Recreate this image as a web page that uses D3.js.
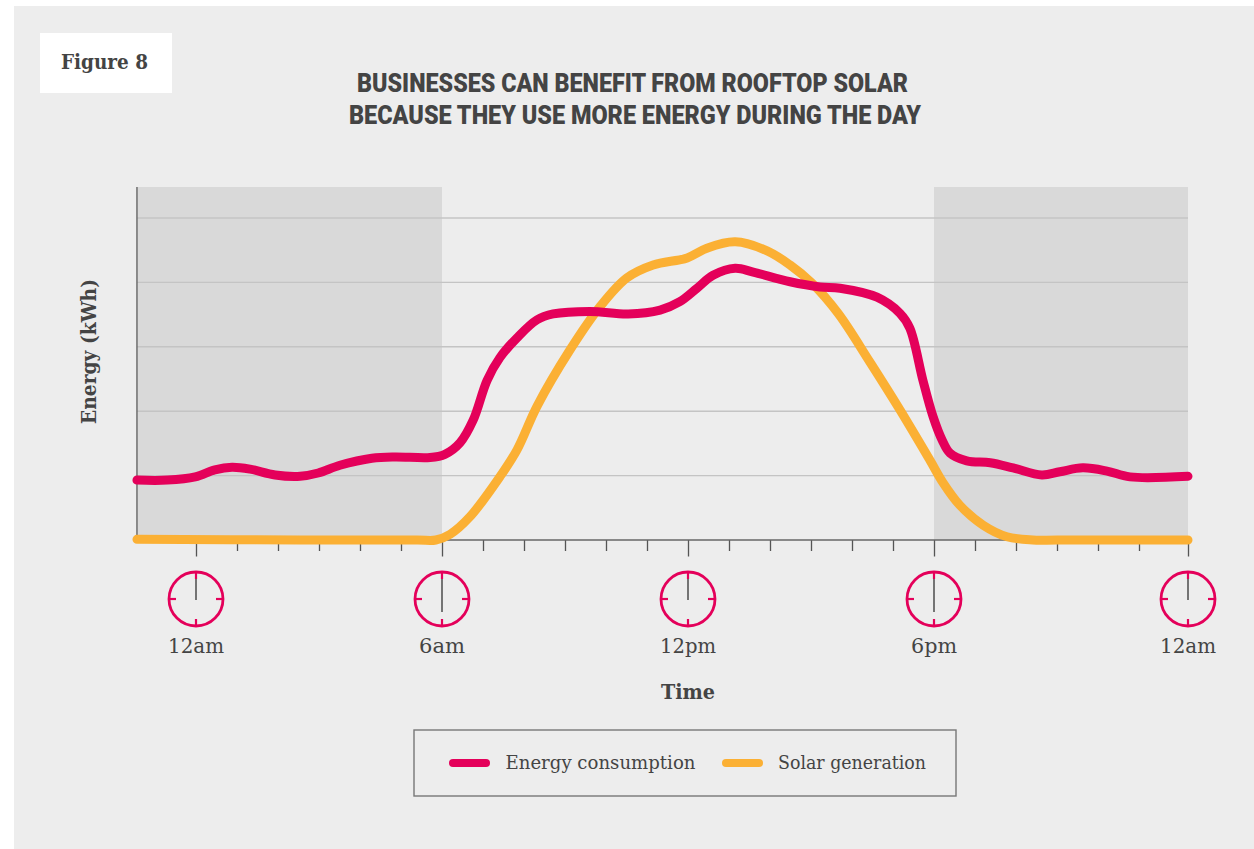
<!DOCTYPE html>
<html><head><meta charset="utf-8">
<script src="https://cdn.jsdelivr.net/npm/d3@7"></script>
<style>html,body{margin:0;padding:0;background:#fff}svg{display:block}</style></head>
<body><svg id="c" width="1254" height="849"></svg>
<script>
const consumptionHours=[-1.44,-0.7,-0.02,0.46,0.88,1.32,1.93,2.54,2.98,3.51,4.29,4.85,5.71,6.07,6.44,6.76,7.10,7.41,7.83,8.32,8.71,9.61,10.54,11.32,11.80,12.22,12.61,13.15,13.59,14.49,15.22,15.71,16.61,17.17,17.41,17.73,17.98,18.2,18.39,18.80,19.37,19.93,20.63,21.07,21.63,22.22,22.78,24];
const consumptionValues=[0.93,0.93,0.98,1.09,1.13,1.10,1.01,0.99,1.04,1.16,1.27,1.29,1.28,1.33,1.51,1.86,2.48,2.83,3.14,3.42,3.51,3.55,3.51,3.57,3.70,3.91,4.11,4.22,4.16,4.01,3.93,3.91,3.77,3.52,3.29,2.48,1.91,1.55,1.35,1.23,1.20,1.12,1.01,1.06,1.12,1.07,0.98,0.99];
const solarHours=[-1.44,2.54,5.4,5.85,6.2,6.68,7.41,7.83,8.32,9.12,9.85,10.51,11.15,11.98,12.46,13.15,13.93,14.49,15.02,15.66,16.44,17.17,17.90,18.22,18.63,19.2,19.78,20.41,21,24];
const solarValues=[0.01,0,0,0,0.09,0.36,0.98,1.40,2.08,2.95,3.62,4.07,4.27,4.38,4.53,4.63,4.49,4.27,3.99,3.52,2.76,2.02,1.24,0.89,0.54,0.23,0.05,0,0,0];
const gridValues=[1,2,3,4,5];
const hourTicks=d3.range(0,25);
const clockHours=[0,6,12,18,24];
const clockLabels=["12am","6am","12pm","6pm","12am"];
const clockHands=[21,33,21,33,21];
const nightBands=[[-1.44,6],[18,24]];
const legendNames=["Energy consumption","Solar generation"];
const PINK="#e4005a",ORANGE="#fbb034",INK="#444444",SLAB="'DejaVu Serif',serif";

const svg=d3.select("#c");
const x=d3.scaleLinear().domain([0,23,24]).range([196,1139,1188]);
const y=d3.scaleLinear().domain([0,5]).range([540,218]);
const yTop=187;

svg.append("rect").attr("x",14).attr("y",6).attr("width",1240).attr("height",843).attr("fill","#ededed");
svg.append("rect").attr("x",40).attr("y",33).attr("width",132).attr("height",60).attr("fill","#fff");

function txt(s,xp,yp,len,size,weight,font){
  return svg.append("text").attr("x",xp).attr("y",yp).attr("font-family",font||SLAB).attr("font-size",size)
    .attr("font-weight",weight||400).attr("fill",INK).attr("textLength",len).attr("lengthAdjust","spacingAndGlyphs").text(s);
}
txt("Figure 8",61,69,87,20,700);
txt("BUSINESSES CAN BENEFIT FROM ROOFTOP SOLAR",357,92,551,25.5,900,"Roboto");
txt("BECAUSE THEY USE MORE ENERGY DURING THE DAY",349,124,572,25.5,900,"Roboto");

svg.selectAll("rect.band").data(nightBands).join("rect").attr("class","band")
  .attr("x",d=>x(d[0])).attr("y",yTop).attr("width",d=>x(d[1])-x(d[0])).attr("height",540-yTop).attr("fill","#d9d9d9");
svg.selectAll("line.grid").data(gridValues).join("line").attr("class","grid")
  .attr("x1",x(-1.44)).attr("x2",x(24)).attr("y1",d=>y(d)).attr("y2",d=>y(d))
  .attr("stroke","#c4c4c4").attr("stroke-width",1.4);

const axis=d3.axisBottom(x).tickValues(hourTicks).tickFormat("").tickSize(11).tickSizeOuter(0);
const ag=svg.append("g").attr("transform","translate(0,540)").call(axis);
ag.select(".domain").remove();
ag.selectAll(".tick line").attr("stroke","#555").attr("stroke-width",1.3)
  .attr("y2",d=>d%6===0?16.5:11);
svg.append("line").attr("x1",x(-1.44)).attr("x2",x(24)).attr("y1",540).attr("y2",540).attr("stroke","#666").attr("stroke-width",1.4);
svg.append("line").attr("x1",x(-1.44)).attr("x2",x(-1.44)).attr("y1",yTop).attr("y2",540).attr("stroke","#666").attr("stroke-width",1.4);

const line=d3.line().x(d=>x(d[0])).y(d=>y(d[1])).curve(d3.curveCatmullRom.alpha(0.5));
function drawLine(h,v,c){
  svg.append("path").attr("d",line(h.map((t,i)=>[t,v[i]]))).attr("fill","none").attr("stroke",c)
    .attr("stroke-width",9).attr("stroke-linecap","round").attr("stroke-linejoin","round");
}
drawLine(solarHours,solarValues,ORANGE);
drawLine(consumptionHours,consumptionValues,PINK);

const cy=599,r=27;
clockHours.forEach((h,i)=>{
  const cx=x(h),g=svg.append("g").attr("transform",`translate(${cx},${cy})`);
  g.append("circle").attr("r",r).attr("fill","none").attr("stroke",PINK).attr("stroke-width",2.8);
  [[0,-1],[0,1],[-1,0],[1,0]].forEach(([a,b])=>{
    g.append("line").attr("x1",a*r).attr("y1",b*r).attr("x2",a*(r-7)).attr("y2",b*(r-7)).attr("stroke",PINK).attr("stroke-width",2.2);
  });
  g.append("line").attr("x1",0).attr("x2",0).attr("y1",-20).attr("y2",clockHands[i]-20).attr("stroke","#555").attr("stroke-width",1.6);
  svg.append("text").attr("x",cx).attr("y",653).attr("text-anchor","middle").attr("font-family",SLAB).attr("font-size",20)
    .attr("fill",INK).attr("textLength",clockLabels[i].length===3?46:56).attr("lengthAdjust","spacingAndGlyphs").text(clockLabels[i]);
});
txt("Time",661,699,54,20,700);
svg.append("text").attr("transform","translate(96,424) rotate(-90)").attr("font-family",SLAB).attr("font-size",20)
  .attr("font-weight",700).attr("fill",INK).attr("textLength",145).attr("lengthAdjust","spacingAndGlyphs").text("Energy (kWh)");

svg.append("rect").attr("x",414).attr("y",730).attr("width",542).attr("height",66).attr("fill","none").attr("stroke","#777").attr("stroke-width",1.4);
[[453,486,PINK,505.5,190],[726,759,ORANGE,778,148]].forEach((d,i)=>{
  svg.append("line").attr("x1",d[0]).attr("x2",d[1]).attr("y1",763).attr("y2",763).attr("stroke",d[2]).attr("stroke-width",8).attr("stroke-linecap","round");
  txt(legendNames[i],d[3],769,d[4],19,400);
});
</script></body></html>
